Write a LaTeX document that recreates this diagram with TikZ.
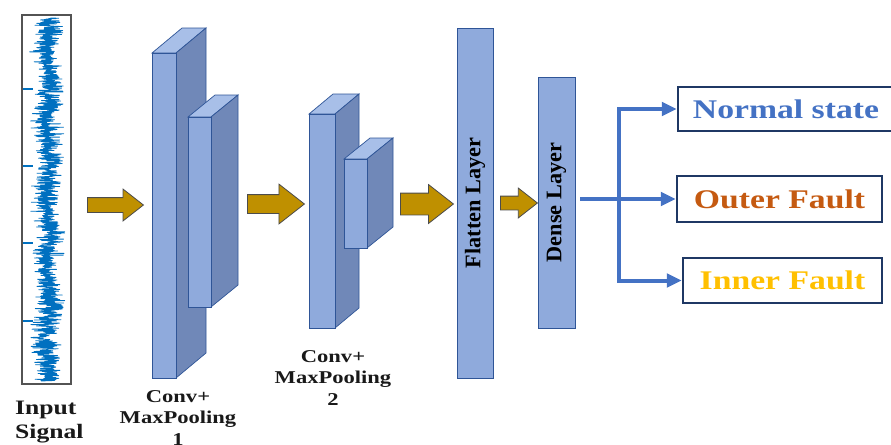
\documentclass[tikz,border=0pt]{standalone}
\usepackage{fontspec}
\setmainfont[FakeStretch=1.25]{Liberation Serif}
\newfontfamily\rotfont{Liberation Serif}
\usetikzlibrary{shapes.arrows,arrows.meta}

\definecolor{faceblue}{HTML}{8FAADC}
\definecolor{topblue}{HTML}{A8BFE8}
\definecolor{sideblue}{HTML}{7088B8}
\definecolor{edgeblue}{HTML}{2F5597}
\definecolor{gold}{HTML}{BF9000}
\definecolor{flowblue}{HTML}{4472C4}
\definecolor{navy}{HTML}{1F3864}
\definecolor{rust}{HTML}{C55A11}
\definecolor{amber}{HTML}{FFC000}
\definecolor{sigblue}{HTML}{0070C0}

% front face (#1,#2)--(#3,#4), pushed back by (#5,#6)
\def\slab(#1,#2)(#3,#4)(#5,#6){
	\draw[edge, fill=topblue] (#1,#2) -- ++(#5,#6) -- ++({#3-#1},0) -- (#3,#2) -- cycle;
	\draw[edge, fill=sideblue] (#3,#2) -- ++(#5,#6) -- ++(0,{#4-#2}) -- (#3,#4) -- cycle;
	\draw[edge, fill=faceblue] (#1,#2) rectangle (#3,#4);
}

\begin{document}
\begin{tikzpicture}[x=0.03cm, y=-0.03cm,
		edge/.style={draw=edgeblue, line width=0.6pt},
		layer/.style={draw=edgeblue, line width=0.8pt, fill=faceblue, inner sep=0pt},
		vtext/.style={rotate=90, inner sep=0pt, font=\rotfont\bfseries\fontsize{19}{21}\selectfont},
		goldarrow/.style={single arrow, anchor=tail, fill=gold, draw=gray!60!black, line width=0.7pt, inner xsep=0pt, single arrow tip angle=76},
		lbl/.style={inner sep=0pt, text=black!90},
		outbox/.style={draw=navy, line width=0.07cm, fill=white, inner sep=0pt, font=\fontsize{23}{26}\selectfont\bfseries},
		>={Triangle[length=0.45cm,width=0.4cm]},
		flow/.style={draw=flowblue, line width=0.12cm}]
	%%%%% START %%%%%
	\useasboundingbox (0,0) rectangle (891,444);
	
	% input signal
	\pgfmathsetseed{42}
	\draw[sigblue, line width=0.7pt, line join=round] plot[samples=1500, domain=18:381, variable=\t] ({48+2.5*sin(\t*5)+6.5*(rand+rand+rand)}, \t);
	\foreach \ty in {89,166,243,321}
		\draw[sigblue, line width=0.05cm] (22,\ty) -- (33,\ty);
	\draw[draw=gray!65!black, line width=0.05cm] (22,15) rectangle (71,384);
	\node[lbl, anchor=north west, align=left, font=\fontsize{17.5}{20.5}\selectfont\bfseries] (inlbl) at (15,401) {Input\\Signal};
	
	% conv + pooling stages
	\slab(152,53)(176,378)(30,-25)
	\slab(188,117)(211,307)(27,-22)
	\node[lbl, anchor=north, align=center, font=\fontsize{15.4}{18.4}\selectfont\bfseries] (conva) at (178,390) {Conv+\\MaxPooling\\1};
	
	\slab(309,114)(335,328)(24,-20)
	\slab(344,159)(367,248)(26,-21)
	\node[lbl, anchor=north, align=center, font=\fontsize{15.4}{18.4}\selectfont\bfseries] (convb) at (333,350) {Conv+\\MaxPooling\\2};
	
	% flatten and dense
	\node[layer, minimum width=1.08cm, minimum height=10.5cm, label={[vtext]center:Flatten Layer}] (flatten) at (475,203) {};
	\node[layer, minimum width=1.11cm, minimum height=7.53cm, label={[vtext]center:Dense Layer}] (dense) at (556.5,202.5) {};
	
	\node[goldarrow, minimum height=1.68cm, inner ysep=0.21cm, single arrow head extend=0.255cm] (arra) at (87,205) {};
	\node[goldarrow, minimum height=1.71cm, inner ysep=0.27cm, single arrow head extend=0.315cm] (arrb) at (247,204) {};
	\node[goldarrow, minimum height=1.59cm, inner ysep=0.315cm, single arrow head extend=0.255cm] (arrc) at (400,204) {};
	\node[goldarrow, minimum height=1.11cm, inner ysep=0.195cm, single arrow head extend=0.24cm] (arrd) at (500,203) {};
	
	% classes
	\node[outbox, text=flowblue, minimum width=6.48cm, minimum height=1.32cm] (normal) at (786,109) {Normal state};
	\node[outbox, text=rust, minimum width=6.15cm, minimum height=1.38cm] (outer) at (779.5,199) {Outer Fault};
	\node[outbox, text=amber, minimum width=5.97cm, minimum height=1.35cm] (inner) at (782.5,280.5) {Inner Fault};
	
	\coordinate (fork) at (619,199);
	\draw[flow, ->] ([xshift=0.15cm]dense.east |- outer.west) -- (outer.west);
	\draw[flow, <->] (normal.west) -| (fork) |- (inner.west);
	%%%%% END %%%%%
\end{tikzpicture}
\end{document}
